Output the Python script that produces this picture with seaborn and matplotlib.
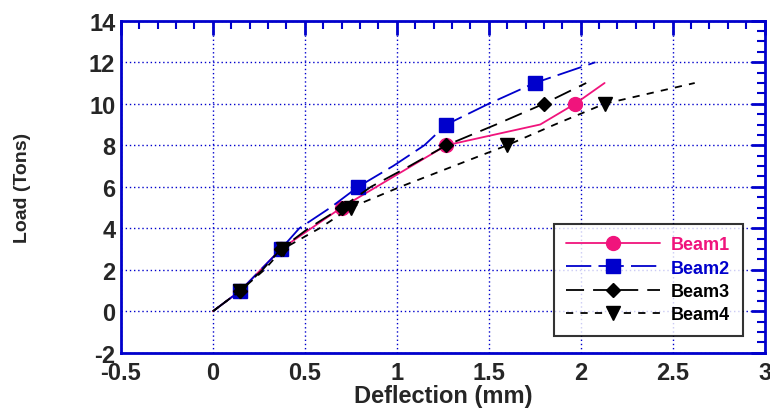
import numpy as np
import pandas as pd
import matplotlib
matplotlib.use("Agg")
import matplotlib.pyplot as plt
import seaborn as sns
from matplotlib.ticker import MultipleLocator

# data
beam1_defl = [0, 0.15, 0.37, 0.70, 1.27, 1.78, 1.97, 2.13]
beam1_load = [0, 1, 3, 5, 8, 9, 10, 11]
beam1_marks = [1, 2, 3, 4, 6]

beam2_defl = [0, 0.15, 0.26, 0.37, 0.47, 0.64, 0.79, 0.98, 1.15, 1.27, 1.50, 1.75, 2.08]
beam2_load = [0, 1, 2, 3, 4, 5, 6, 7, 8, 9, 10, 11, 12]
beam2_marks = [1, 3, 6, 9, 11]

beam3_defl = [0, 0.15, 0.27, 0.37, 0.52, 0.70, 0.86, 1.07, 1.27, 1.54, 1.80, 2.03]
beam3_load = [0, 1, 2, 3, 4, 5, 6, 7, 8, 9, 10, 11]
beam3_marks = [1, 3, 5, 8, 10]

beam4_defl = [0, 0.15, 0.28, 0.38, 0.58, 0.75, 1.02, 1.31, 1.60, 1.86, 2.13, 2.62]
beam4_load = [0, 1, 2, 3, 4, 5, 6, 7, 8, 9, 10, 11]
beam4_marks = [1, 3, 5, 8, 10]

sns.set_theme(style="white")
plt.rcParams['font.family'] = ['Liberation Sans', 'DejaVu Sans']
plt.rcParams['font.weight'] = 'bold'

BLUE = '#0000cc'
PINK = '#f0147c'

fig = plt.figure(figsize=(7.7, 4.1), dpi=100)
ax = fig.add_axes([0.157, 0.137, 0.836, 0.81])

series = [
    ("Beam1", beam1_defl, beam1_load, beam1_marks, PINK, 'o', 10, '-', None),
    ("Beam2", beam2_defl, beam2_load, beam2_marks, BLUE, 's', 10, '--', (14, 4)),
    ("Beam3", beam3_defl, beam3_load, beam3_marks, 'black', 'D', 7, '--', (10, 5)),
    ("Beam4", beam4_defl, beam4_load, beam4_marks, 'black', 'v', 10, '--', (4, 4)),
]

for name, xs, ys, marks, col, mk, ms, ls, dash in series:
    df = pd.DataFrame({"x": xs, "y": ys})
    kw = {}
    if dash is not None:
        kw['dashes'] = dash
    ax.plot(df["x"], df["y"], color=col, lw=1.3, ls=ls, marker=mk, markersize=ms,
            markevery=marks, label=name, **kw)

ax.set_xlim(-0.5, 3)
ax.set_ylim(-2, 14)
ax.xaxis.set_major_locator(MultipleLocator(0.5))
ax.xaxis.set_minor_locator(MultipleLocator(0.1))
ax.yaxis.set_major_locator(MultipleLocator(2))
ax.yaxis.set_minor_locator(MultipleLocator(0.5))
ax.xaxis.set_major_formatter(plt.FuncFormatter(lambda v, p: '%g' % v))
ax.yaxis.set_major_formatter(plt.FuncFormatter(lambda v, p: '%g' % v))

ax.grid(True, which='major', color=BLUE, ls=(0, (1, 2)), lw=1.0)
for sp in ax.spines.values():
    sp.set_color(BLUE)
    sp.set_linewidth(2)
ax.tick_params(which='both', direction='in', top=True, right=True, color=BLUE,
               labelsize=17, pad=4)
ax.tick_params(which='major', length=10, width=2)
ax.tick_params(which='minor', length=6, width=1.5)
ax.tick_params(axis='x', which='major', pad=6)
for lab in ax.get_xticklabels() + ax.get_yticklabels():
    lab.set_fontweight('bold')

ax.set_xlabel('Deflection (mm)', fontsize=17, fontweight='bold', labelpad=0)
ax.set_ylabel('Load (Tons)', fontsize=14, fontweight='bold', labelpad=42)

leg = ax.legend(loc='lower right', bbox_to_anchor=(0.966, 0.051), frameon=True,
                fancybox=False, edgecolor='black', fontsize=13, handlelength=5.2,
                handletextpad=0.6, labelspacing=0.35, borderpad=0.7,
                borderaxespad=0)
leg.get_frame().set_linewidth(1.5)
for txt, s in zip(leg.get_texts(), series):
    txt.set_color(s[4])
    txt.set_fontweight('bold')

fig.savefig('out.png', dpi=100, facecolor='white')
